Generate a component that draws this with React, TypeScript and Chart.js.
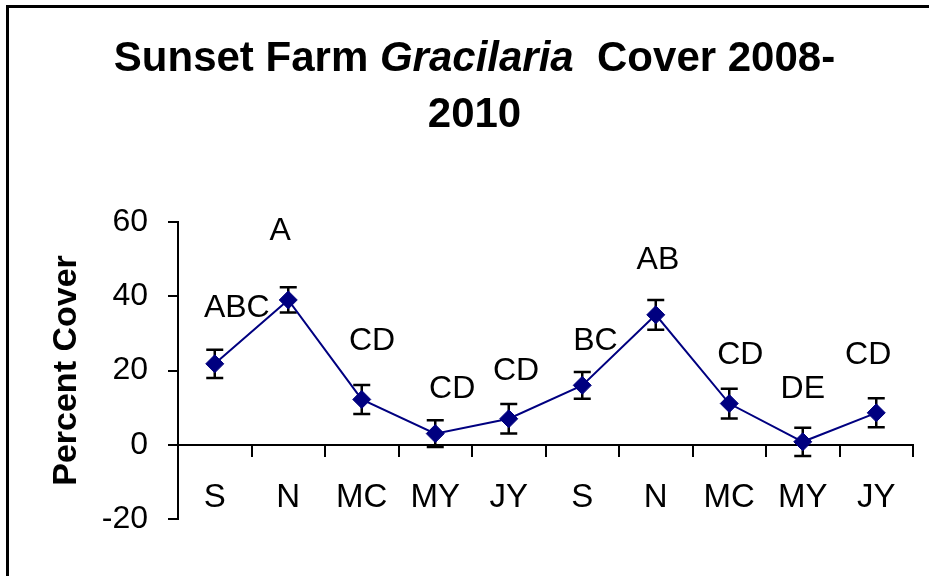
import React, { useEffect, useRef } from "react";
import { Chart, registerables } from "chart.js";

Chart.register(...registerables);

// ---- data ----
const categories = ["S", "N", "MC", "MY", "JY", "S", "N", "MC", "MY", "JY"];
const meanCover = [21.8, 39.0, 12.2, 3.0, 7.0, 16.0, 35.0, 11.1, 0.8, 8.6];
const errCover = [3.8, 3.4, 3.9, 3.6, 4.0, 3.6, 4.0, 4.0, 3.8, 3.9];
const groupLetters = ["ABC", "A", "CD", "CD", "CD", "BC", "AB", "CD", "DE", "CD"];
const letterY = [36.8, 57.6, 28.0, 15.1, 19.7, 28.0, 49.6, 24.0, 15.1, 24.0];
const letterShift = [0.3, -0.11, 0.14, 0.23, 0.1, 0.18, 0.03, 0.15, 0, -0.11];
const yMin = -20;
const yMax = 60;
const yStep = 20;

const FONT = '"Liberation Sans", Arial, sans-serif';
const NAVY = "#000080";

const errorBarPlugin = {
  id: "errorBars",
  beforeDatasetsDraw(chart: any) {
    const ctx = chart.ctx;
    const meta = chart.getDatasetMeta(0);
    const y = chart.scales.y;
    ctx.save();
    ctx.strokeStyle = "#000";
    ctx.lineWidth = 2.5;
    meta.data.forEach((pt: any, i: number) => {
      const x = pt.x;
      const top = y.getPixelForValue(meanCover[i] + errCover[i]);
      const bot = y.getPixelForValue(meanCover[i] - errCover[i]);
      ctx.beginPath();
      ctx.moveTo(x, top);
      ctx.lineTo(x, bot);
      ctx.moveTo(x - 8.5, top);
      ctx.lineTo(x + 8.5, top);
      ctx.moveTo(x - 8.5, bot);
      ctx.lineTo(x + 8.5, bot);
      ctx.stroke();
    });
    ctx.restore();
  },
};

const lettersPlugin = {
  id: "letters",
  afterDraw(chart: any) {
    const ctx = chart.ctx;
    const xs = chart.scales.x;
    const ys = chart.scales.y;
    const cw = xs.width / categories.length;
    ctx.save();
    ctx.fillStyle = "#000";
    ctx.font = `32px ${FONT}`;
    ctx.textAlign = "center";
    ctx.textBaseline = "middle";
    groupLetters.forEach((t, i) => {
      const x = xs.getPixelForValue(i) + letterShift[i] * cw;
      const y = ys.getPixelForValue(letterY[i]);
      ctx.fillText(t, x, y);
    });
    ctx.restore();
  },
};

const titleFramePlugin = {
  id: "titleFrame",
  afterDraw(chart: any) {
    const ctx = chart.ctx;
    ctx.save();
    ctx.fillStyle = "#000";
    ctx.fillRect(6, 5, chart.width - 6, 3);
    ctx.fillRect(6, 5, 3, chart.height - 5);
    const segs = [
      { t: "Sunset Farm ", f: `bold 42px ${FONT}` },
      { t: "Gracilaria", f: `italic bold 42px ${FONT}` },
      { t: "  Cover 2008-", f: `bold 42px ${FONT}` },
    ];
    let total = 0;
    const widths = segs.map((s) => {
      ctx.font = s.f;
      const w = ctx.measureText(s.t).width;
      total += w;
      return w;
    });
    const cx = 474.5;
    let x = cx - total / 2;
    ctx.textAlign = "left";
    ctx.textBaseline = "alphabetic";
    segs.forEach((s, i) => {
      ctx.font = s.f;
      ctx.fillText(s.t, x, 71);
      x += widths[i];
    });
    ctx.font = `bold 42px ${FONT}`;
    ctx.textAlign = "center";
    ctx.fillText("2010", cx, 127);
    ctx.restore();
  },
};

export default function App() {
  const ref = useRef<HTMLCanvasElement | null>(null);
  useEffect(() => {
    if (!ref.current) return;
    const chart = new Chart(ref.current, {
      type: "line",
      data: {
        labels: categories,
        datasets: [
          {
            data: meanCover,
            borderColor: NAVY,
            backgroundColor: NAVY,
            borderWidth: 2,
            pointStyle: "rectRot",
            pointRadius: 9,
            pointBorderWidth: 1,
            pointBorderColor: NAVY,
            pointBackgroundColor: NAVY,
            tension: 0,
          },
        ],
      },
      options: {
        responsive: false,
        animation: false,
        events: [],
        layout: { padding: { top: 222, bottom: 57, left: 0, right: 16 } },
        plugins: {
          legend: { display: false },
          tooltip: { enabled: false },
          title: { display: false },
        },
        scales: {
          x: {
            type: "category",
            position: { y: 0 } as any,
            offset: true,
            grid: {
              offset: true,
              drawOnChartArea: false,
              drawTicks: true,
              tickLength: 11,
              color: "#000",
              lineWidth: 2,
            },
            border: { display: true, color: "#000", width: 2 },
            ticks: {
              color: "#000",
              font: { family: FONT, size: 33 },
              padding: 22,
              maxRotation: 0,
              autoSkip: false,
            },
          },
          y: {
            min: yMin,
            max: yMax,
            position: "left",
            afterFit(s: any) {
              s.width = 178;
            },
            ticks: {
              stepSize: yStep,
              color: "#000",
              font: { family: FONT, size: 32 },
              padding: 20,
            },
            grid: {
              drawOnChartArea: false,
              tickLength: 10,
              color: "#000",
              lineWidth: 2,
            },
            border: { color: "#000", width: 2 },
            title: {
              display: true,
              text: "Percent Cover",
              color: "#000",
              font: { family: FONT, size: 34, weight: "bold" },
              padding: { top: 46, bottom: 0 },
            },
          },
        },
      },
      plugins: [errorBarPlugin, lettersPlugin, titleFramePlugin],
    });
    return () => chart.destroy();
  }, []);
  return (
    <div style={{ position: "fixed", left: 0, top: 0, width: 929, height: 576, background: "#fff" }}>
      <canvas ref={ref} width={929} height={576} style={{ display: "block" }} />
    </div>
  );
}
